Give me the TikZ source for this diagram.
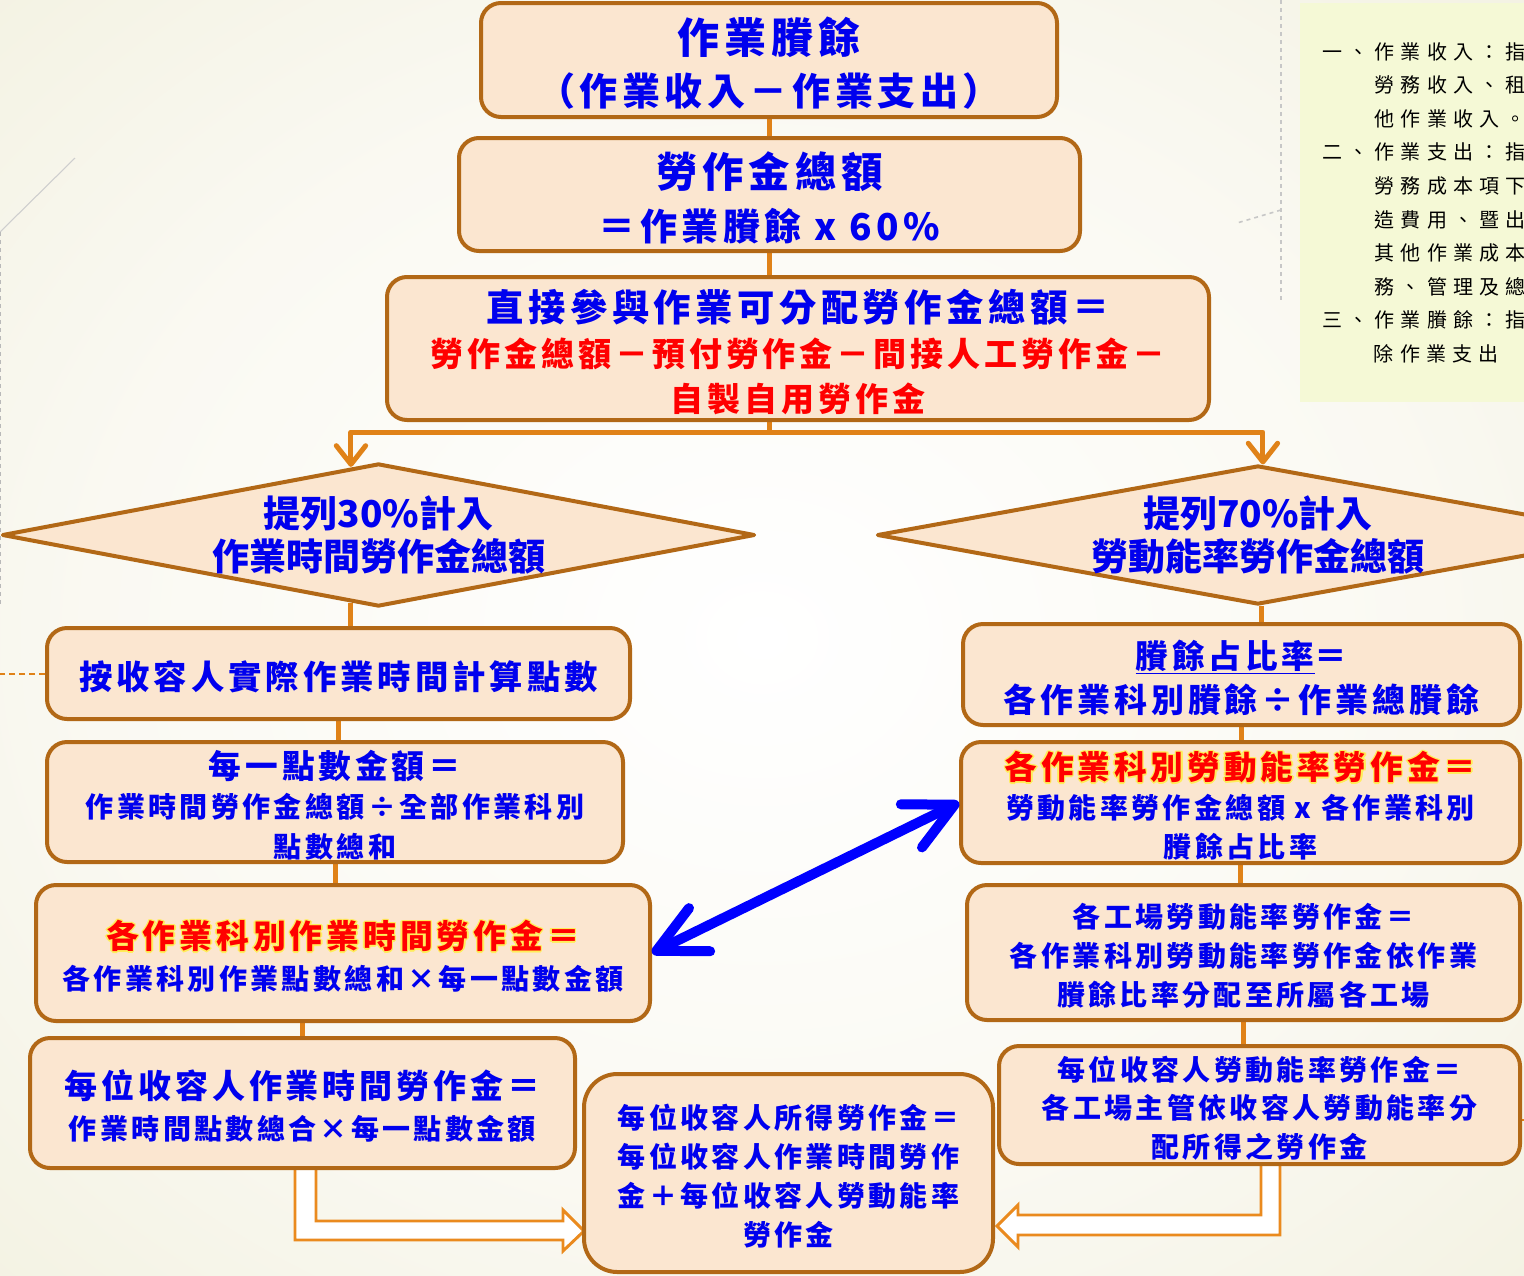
\documentclass[tikz,border=0pt]{standalone}
\usepackage{fontspec}
\usetikzlibrary{shapes.geometric,arrows.meta,calc}
\newfontfamily\kaif{Noto Sans CJK TC}[LetterSpace=12]
\newfontfamily\diaf{Noto Sans CJK TC}
\newfontfamily\notef{Noto Sans CJK TC}[LetterSpace=31]
\definecolor{bgc}{RGB}{237,235,212}
\definecolor{bgmid}{RGB}{250,249,242}
\definecolor{notec}{RGB}{245,249,214}
\definecolor{boxfill}{RGB}{251,230,208}
\definecolor{boxline}{RGB}{178,104,22}
\definecolor{connc}{RGB}{224,130,24}
\definecolor{tblue}{RGB}{0,0,238}
\definecolor{ablue}{RGB}{0,0,255}
\definecolor{glowc}{RGB}{255,238,90}
\definecolor{hollowc}{RGB}{234,138,30}
\definecolor{dashg}{RGB}{185,185,185}
\pgfdeclarelayer{back}\pgfdeclarelayer{mid}\pgfsetlayers{back,mid,main}
\pgfdeclareradialshading{bgshade}{\pgfpoint{0bp}{0bp}}{color(0bp)=(white);color(22bp)=(bgmid);color(50bp)=(bgc)}
\newcommand\fz[1]{\fontsize{#1}{#1}\selectfont}
\newcommand\upr{\rule{0pt}{\dimexpr0.86em+5pt\relax}}
\newcommand\glw[1]{\leavevmode
 \rlap{\textcolor{glowc}{\kern1.1pt #1}}%
 \rlap{\textcolor{glowc}{\kern-1.1pt #1}}%
 \rlap{\textcolor{glowc}{\raisebox{1.1pt}{#1}}}%
 \rlap{\textcolor{glowc}{\raisebox{-1.1pt}{#1}}}%
 \rlap{\textcolor{glowc}{\kern0.8pt\raisebox{0.8pt}{#1}}}%
 \rlap{\textcolor{glowc}{\kern-0.8pt\raisebox{-0.8pt}{#1}}}%
 \rlap{\textcolor{glowc}{\kern0.8pt\raisebox{-0.8pt}{#1}}}%
 \rlap{\textcolor{glowc}{\kern-0.8pt\raisebox{0.8pt}{#1}}}%
 \textcolor{red}{#1}}
\begin{document}
\begin{tikzpicture}[x=0.75pt,y=-0.75pt,
 box/.style={draw=boxline, fill=boxfill, line width=3pt, rounded corners=15pt, align=center, inner sep=0pt, text=tblue},
 dmd/.style={diamond, draw=boxline, fill=boxfill, line width=3pt, line join=round, shape aspect=5.3, inner xsep=-40pt, inner ysep=-15pt, align=center, text=tblue, font=\diaf\bfseries\fontsize{27.75}{32.25}\selectfont},
 conn/.style={draw=connc, line width=3.75pt},
 tipv/.style={-{Straight Barb[length=14pt,width=22pt,round]}},
 hollow/.style={fill=white, draw=hollowc, line width=2.2pt},
 bluearr/.style={draw=ablue, line width=7.5pt, {Straight Barb[length=36pt,width=36pt,round]}-{Straight Barb[length=36pt,width=36pt,round]}},
]
\useasboundingbox (0,0) rectangle (1524,1275);
\begin{pgfonlayer}{back}
\shade[shading=bgshade] (0,0) rectangle (1524,1275);
\draw[dashg!70, line width=0.8pt] (0,232) -- (75,158);
\draw[dashg, dashed, line width=1pt] (0.8,232) -- (0.8,605);
\draw[dashg!80, dashed, line width=1.2pt] (1281,0) -- (1281,300);
\draw[dashg!80, dashed, line width=1.2pt] (1281,210) -- (1237,223);
\end{pgfonlayer}
\clip (0,0) rectangle (1524,1275);

% note box
\node[fill=notec, anchor=north west, inner xsep=16.5pt, inner ysep=0pt, minimum height=299.25pt, align=left, text=black, font=\notef\fontsize{15}{25.2}\selectfont] (note) at (1300,3)
 {一、作業收入：指\\　　勞務收入、租\\　　他作業收入。\\二、作業支出：指\\　　勞務成本項下\\　　造費用、暨出\\　　其他作業成本\\　　務、管理及總\\三、作業賸餘：指\\　　\kern4pt 除作業支出};

% top boxes
\node[box, minimum width=432pt, minimum height=85.5pt, font=\kaif\bfseries\fontsize{31.5}{38.5}\selectfont] (T1) at (769,60)
 {\fz{31.5}\upr 作業賸餘\\\fz{28.5}（作業收入－作業支出）};
\node[box, minimum width=465.75pt, minimum height=84.75pt, font=\kaif\bfseries\fontsize{31}{40}\selectfont] (T2) at (769.5,194.5)
 {\fz{31}\upr 勞作金總額\\\fz{27.75}＝作業賸餘 x 60\%};
\node[box, minimum width=616.5pt, minimum height=107.25pt, font=\kaif\bfseries\fontsize{28}{33.75}\selectfont] (T3) at (798,348.5)
 {\fz{28}\upr 直接參與作業可分配勞作金總額＝\\\fz{24.75}\color{red}勞作金總額－預付勞作金－間接人工勞作金－\\\fz{24.75}\color{red}自製自用勞作金};

% diamonds
\node[dmd, minimum width=564.75pt, minimum height=107.25pt] (DL) at (378.5,535) {提列30\%計入\\作業時間勞作金總額};
\node[dmd, minimum width=571.5pt, minimum height=104.25pt] (DR) at (1258,535) {提列70\%計入\\勞動能率勞作金總額};

% left column
\node[box, minimum width=437.25pt, minimum height=68.25pt, font=\kaif\bfseries\fontsize{25}{30}\selectfont] (L1) at (338.5,673.5)
 {\upr 按收容人實際作業時間計算點數};
\node[box, minimum width=432pt, minimum height=90pt, font=\kaif\bfseries\fontsize{21}{29.3}\selectfont] (L2) at (335,802)
 {\fz{24.5}\upr 每一點數金額＝\\\fz{21}作業時間勞作金總額÷全部作業科別\\\fz{21}點數總和};
\node[box, minimum width=460.5pt, minimum height=102pt, font=\kaif\bfseries\fontsize{21}{30.5}\selectfont] (L3) at (343,953)
 {\fz{24.6}\upr\glw{各作業科別作業時間勞作金＝}\\\fz{21}各作業科別作業點數總和×每一點數金額};
\node[box, minimum width=408.75pt, minimum height=97.5pt, font=\kaif\bfseries\fontsize{21}{31}\selectfont] (L4) at (302.5,1103)
 {\fz{24.75}\upr 每位收容人作業時間勞作金＝\\\fz{21}作業時間點數總合×每一點數金額};

% right column
\node[box, minimum width=417.75pt, minimum height=75.75pt, font=\kaif\bfseries\fontsize{24.5}{32.8}\selectfont] (R1) at (1241.5,674.5)
 {\fz{24.5}\upr\underline{賸餘占比率}＝\\\fz{24.75}各作業科別賸餘÷作業總賸餘};
\node[box, minimum width=419.25pt, minimum height=90.75pt, font=\kaif\bfseries\fontsize{21}{29}\selectfont] (R2) at (1240.5,802.5)
 {\fz{24.5}\upr\glw{各作業科別勞動能率勞作金＝}\\\fz{21}勞動能率勞作金總額 x 各作業科別\\\fz{21}賸餘占比率};
\node[box, minimum width=414.75pt, minimum height=101.25pt, font=\kaif\bfseries\fontsize{21}{29.25}\selectfont] (R3) at (1243.5,952.5)
 {\upr 各工場勞動能率勞作金＝\\各作業科別勞動能率勞作金依作業\\賸餘比率分配至所屬各工場};
\node[box, minimum width=390.75pt, minimum height=88.5pt, font=\kaif\bfseries\fontsize{21}{29}\selectfont] (R4) at (1259.5,1105)
 {\upr 每位收容人勞動能率勞作金＝\\各工場主管依收容人勞動能率分\\配所得之勞作金};

% center bottom
\node[box, rounded corners=25pt, minimum width=306.75pt, minimum height=148.5pt, font=\kaif\bfseries\fontsize{21}{29.25}\selectfont] (C) at (788.5,1173)
 {\upr 每位收容人所得勞作金＝\\每位收容人作業時間勞作\\金＋每位收容人勞動能率\\勞作金};

% connectors under boxes
\begin{pgfonlayer}{mid}
\draw[conn] (T1.south) -- (T1.south |- T2.north);
\draw[conn] (T2.south) -- (T2.south |- T3.north);
\coordinate (sp) at (769,432);
\draw[conn] (sp |- T3.south) -- (sp);
\draw[conn] (DL.248) -- (DL.248 |- L1.north);
\draw[conn] (DR.273) -- (DR.273 |- R1.north);
\draw[conn] (L1.south) -- (L1.south |- L2.north);
\draw[conn] (L2.south) -- (L2.south |- L3.north);
\draw[conn] (L4.north |- L3.south) -- (L4.north);
\draw[conn] (R1.south) -- (R1.south |- R2.north);
\draw[conn] (R2.south) -- (R2.south |- R3.north);
\draw[conn] (R3.south) -- (R3.south |- R4.north);
\draw[connc, line width=1.5pt, dash pattern=on 4.5pt off 3pt] (L1.west) -- (0,673.5);
\draw[connc, line width=1.5pt] ($(R4.east)+(0,15)$) -- ++(8,0);
\filldraw[hollow] ($(L4.south)+(-7.5,0)$) -- ++(0,70) -- ++(268,0) -- ++(0,11) -- ++(21,-20) -- ++(-21,-21) -- ++(0,11) -- ++(-247,0) -- ++(0,-51);
\filldraw[hollow] ($(R4.south)+(20.5,0)$) -- ++(0,69) -- ++(-262,0) -- ++(0,12) -- ++(-21,-21) -- ++(21,-21) -- ++(0,10) -- ++(243,0) -- ++(0,-49);
\end{pgfonlayer}

% split arrows into diamonds
\draw[conn, tipv, line join=round] (sp) -| (DL.112.7);
\draw[conn, tipv, line join=round] (sp) -| (DR.86);

% blue double arrow
\draw[bluearr] (L3.east) -- (R2.west);
\end{tikzpicture}
\end{document}
